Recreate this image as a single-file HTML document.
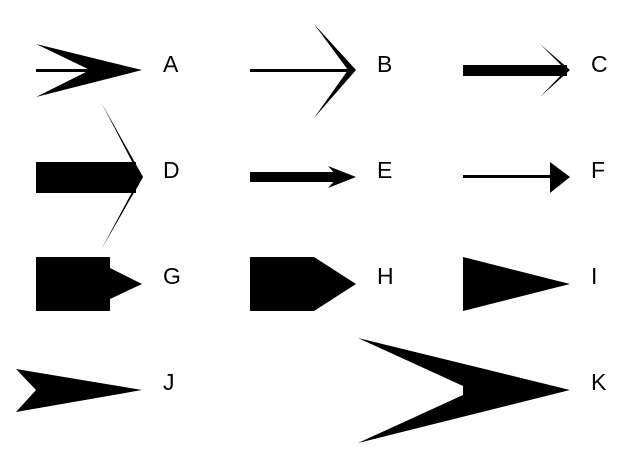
<!DOCTYPE html>
<html><head><meta charset="utf-8"><style>html,body{margin:0;padding:0;background:#fff}svg{display:block}</style></head>
<body>
<svg width="625" height="463" viewBox="0 0 625 463" xmlns="http://www.w3.org/2000/svg">
<g fill="#000" stroke="none">
<!-- A -->
<rect x="36" y="69" width="58" height="3"/>
<polygon points="36,44 142,70 36,97 90,70"/>
<!-- B -->
<rect x="250" y="69" width="100" height="3"/>
<polygon points="314,24 356,70 314,118 348,70"/>
<!-- C -->
<rect x="463" y="65" width="104" height="11"/>
<polygon points="540,44 570,70 540,97 566,70"/>
<!-- D -->
<rect x="36" y="162" width="100" height="31"/>
<polygon points="101,102 143,177 101,250 140,177"/>
<polygon points="134,162 143,177 134,193"/>
<!-- E -->
<rect x="250" y="172" width="93" height="10"/>
<polygon points="328,166 356,177 328,188 338,177"/>
<!-- F -->
<rect x="463" y="175" width="89" height="3"/>
<polygon points="550,162 570,177 550,193"/>
<!-- G -->
<polygon points="36,257 110,257 110,268 142,284 110,299 110,311 36,311"/>
<!-- H -->
<polygon points="250,257 314,257 356,284 314,311 250,311"/>
<!-- I -->
<polygon points="463,257 570,284 463,311"/>
<!-- J -->
<polygon points="16,369 142,390 16,412 36,390"/>
<!-- K -->
<polygon points="358,338 570,390 358,443 463,395 463,386"/>
</g>
<g font-family="Liberation Sans, sans-serif" font-size="23" fill="#000">
<text x="163" y="72">A</text>
<text x="377" y="72">B</text>
<text x="591" y="72">C</text>
<text x="163" y="178">D</text>
<text x="377" y="178">E</text>
<text x="591" y="178">F</text>
<text x="163" y="284">G</text>
<text x="377" y="284">H</text>
<text x="591" y="284">I</text>
<text x="163" y="390">J</text>
<text x="591" y="390">K</text>
</g>
</svg>
</body></html>
